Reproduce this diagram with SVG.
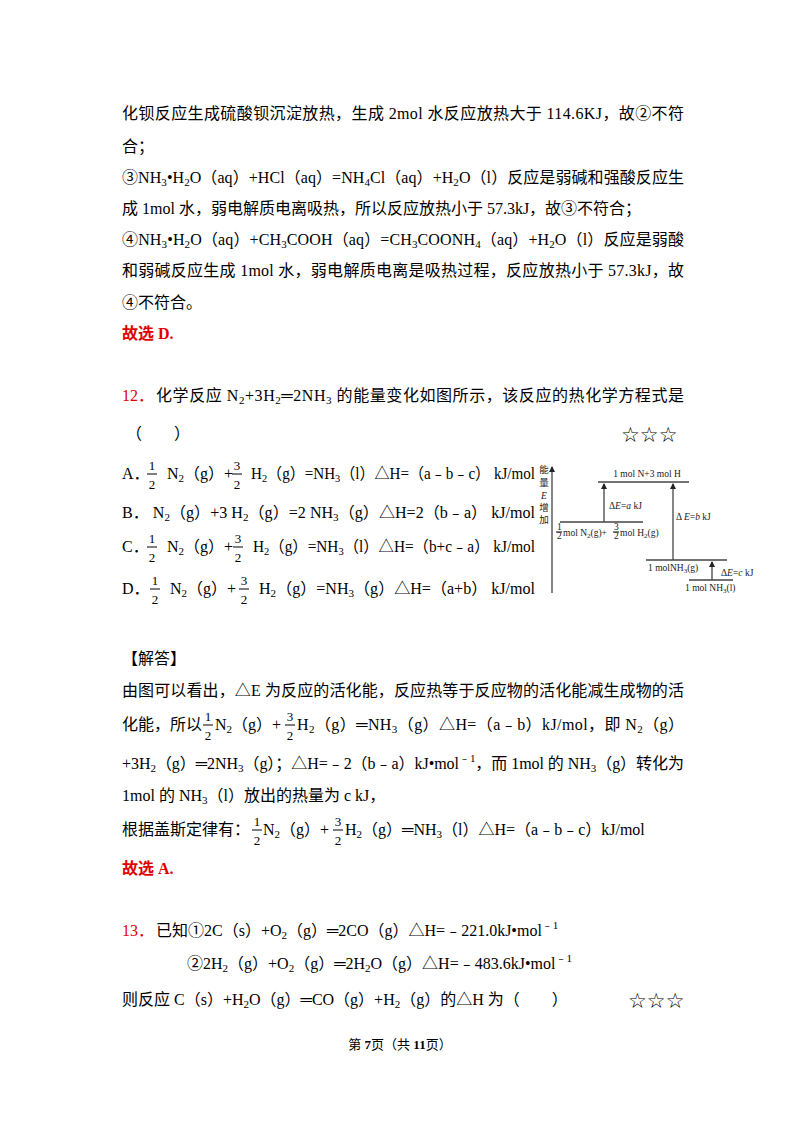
<svg xmlns="http://www.w3.org/2000/svg" width="800" height="1132" viewBox="0 0 800 1132">
<style>
text{font-family:"Liberation Serif","Noto Sans CJK SC",serif;font-size:16px;fill:#000}
.r{fill:#e00000;font-weight:bold}
.rn{fill:#e00000}
.s{font-size:11px}
.fr{font-size:13px;text-anchor:middle}
.d{font-size:9.5px;fill:#222}
.st{font-family:"DejaVu Sans",sans-serif;font-size:21px}
.ft{font-size:13px}
line{stroke:#000;stroke-width:1}
.dl{stroke:#444;stroke-width:1.3}
</style>
<defs><marker id="a" markerWidth="6" markerHeight="8" refX="5" refY="3" orient="auto" markerUnits="userSpaceOnUse"><path d="M0,0L6,3L0,6z" fill="#222"/></marker></defs>
<rect width="800" height="1132" fill="#fff"/>
<g id="text-top">
<text x="122" y="119" textLength="562" lengthAdjust="spacing">化钡反应生成硫酸钡沉淀放热，生成 2mol 水反应放热大于 114.6KJ，故②不符</text>
<text x="122" y="152">合；</text>
<text x="122" y="183" textLength="562" lengthAdjust="spacing">③NH<tspan class="s" dy="3">3</tspan><tspan dy="-3">•H</tspan><tspan class="s" dy="3">2</tspan><tspan dy="-3">O（aq）+HCl（aq）=NH</tspan><tspan class="s" dy="3">4</tspan><tspan dy="-3">Cl（aq）+H</tspan><tspan class="s" dy="3">2</tspan><tspan dy="-3">O（l）反应是弱碱和强酸反应生</tspan></text>
<text x="122" y="214">成 1mol 水，弱电解质电离吸热，所以反应放热小于 57.3kJ，故③不符合；</text>
<text x="122" y="245" textLength="562" lengthAdjust="spacing">④NH<tspan class="s" dy="3">3</tspan><tspan dy="-3">•H</tspan><tspan class="s" dy="3">2</tspan><tspan dy="-3">O（aq）+CH</tspan><tspan class="s" dy="3">3</tspan><tspan dy="-3">COOH（aq）=CH</tspan><tspan class="s" dy="3">3</tspan><tspan dy="-3">COONH</tspan><tspan class="s" dy="3">4</tspan><tspan dy="-3">（aq）+H</tspan><tspan class="s" dy="3">2</tspan><tspan dy="-3">O（l）反应是弱酸</tspan></text>
<text x="122" y="276" textLength="562" lengthAdjust="spacing">和弱碱反应生成 1mol 水，弱电解质电离是吸热过程，反应放热小于 57.3kJ，故</text>
<text x="122" y="308">④不符合。</text>
<text x="122" y="339" class="r">故选 D.</text>
</g>
<g id="q12">
<text x="122" y="401" class="rn">12．</text>
<text x="156" y="401" textLength="528" lengthAdjust="spacing">化学反应 N<tspan class="s" dy="3">2</tspan><tspan dy="-3">+3H</tspan><tspan class="s" dy="3">2</tspan><tspan dy="-3">═2NH</tspan><tspan class="s" dy="3">3</tspan><tspan dy="-3"> 的能量变化如图所示，该反应的热化学方程式是</tspan></text>
<text x="126" y="439">（　　）</text>
<text x="621" y="442" class="st">☆☆☆</text>
</g>
<g id="options">
<text x="122" y="479">A．</text>
<text x="152" y="470" class="fr">1</text><line x1="147" y1="474" x2="157" y2="474"/><text x="152" y="489" class="fr">2</text>
<text x="167" y="479">N<tspan class="s" dy="3">2</tspan><tspan dy="-3">（g）+</tspan></text>
<text x="237" y="470" class="fr">3</text><line x1="232" y1="474" x2="242" y2="474"/><text x="237" y="489" class="fr">2</text>
<text x="251" y="479" textLength="284" lengthAdjust="spacingAndGlyphs">H<tspan class="s" dy="3">2</tspan><tspan dy="-3">（g）=NH</tspan><tspan class="s" dy="3">3</tspan><tspan dy="-3">（l）△H=（a﹣b﹣c） kJ/mol</tspan></text>

<text x="122" y="518" textLength="413" lengthAdjust="spacingAndGlyphs">B．  N<tspan class="s" dy="3">2</tspan><tspan dy="-3">（g）+3 H</tspan><tspan class="s" dy="3">2</tspan><tspan dy="-3">（g）=2 NH</tspan><tspan class="s" dy="3">3</tspan><tspan dy="-3">（g）△H=2（b﹣a） kJ/mol</tspan></text>

<text x="122" y="552">C．</text>
<text x="152" y="543" class="fr">1</text><line x1="147" y1="547" x2="157" y2="547"/><text x="152" y="562" class="fr">2</text>
<text x="167" y="552">N<tspan class="s" dy="3">2</tspan><tspan dy="-3">（g）+</tspan></text>
<text x="238" y="543" class="fr">3</text><line x1="233" y1="547" x2="243" y2="547"/><text x="238" y="562" class="fr">2</text>
<text x="253" y="552" textLength="282" lengthAdjust="spacingAndGlyphs">H<tspan class="s" dy="3">2</tspan><tspan dy="-3">（g）=NH</tspan><tspan class="s" dy="3">3</tspan><tspan dy="-3">（l）△H=（b+c﹣a） kJ/mol</tspan></text>

<text x="122" y="594">D．</text>
<text x="155" y="585" class="fr">1</text><line x1="150" y1="589" x2="160" y2="589"/><text x="155" y="604" class="fr">2</text>
<text x="170" y="594">N<tspan class="s" dy="3">2</tspan><tspan dy="-3">（g）+</tspan></text>
<text x="244" y="585" class="fr">3</text><line x1="239" y1="589" x2="249" y2="589"/><text x="244" y="604" class="fr">2</text>
<text x="259" y="594" textLength="276" lengthAdjust="spacingAndGlyphs">H<tspan class="s" dy="3">2</tspan><tspan dy="-3">（g）=NH</tspan><tspan class="s" dy="3">3</tspan><tspan dy="-3">（g）△H=（a+b） kJ/mol</tspan></text>
</g>
<g id="energy-diagram">
<line class="dl" x1="552" y1="593" x2="552" y2="467" marker-end="url(#a)"/>
<text x="544" y="473" class="d" text-anchor="middle" font-size="9">能</text>
<text x="544" y="486" class="d" text-anchor="middle" font-size="9">量</text>
<text x="544" y="499" class="d" text-anchor="middle" font-style="italic">E</text>
<text x="544" y="511" class="d" text-anchor="middle" font-size="9">增</text>
<text x="544" y="523" class="d" text-anchor="middle" font-size="9">加</text>
<line class="dl" x1="598" y1="482" x2="689" y2="482"/>
<text x="647" y="477" class="d" text-anchor="middle">1 mol N+3 mol H</text>
<line class="dl" x1="560" y1="522" x2="643" y2="522"/>
<text x="557" y="530" class="d" font-size="7">1</text><line x1="556" y1="532" x2="562" y2="532" stroke-width="0.7"/><text x="557" y="539" class="d" font-size="7">2</text>
<text x="563" y="536" class="d">mol N<tspan font-size="7" dy="2">2</tspan><tspan dy="-2">(g)+</tspan></text>
<text x="614" y="530" class="d" font-size="7">3</text><line x1="613" y1="532" x2="619" y2="532" stroke-width="0.7"/><text x="614" y="539" class="d" font-size="7">2</text>
<text x="620" y="536" class="d">mol H<tspan font-size="7" dy="2">2</tspan><tspan dy="-2">(g)</tspan></text>
<line class="dl" x1="604" y1="522" x2="604" y2="484" marker-end="url(#a)"/>
<text x="609" y="509" class="d">Δ<tspan font-style="italic">E</tspan>=<tspan font-style="italic">a</tspan> kJ</text>
<line class="dl" x1="673" y1="560" x2="673" y2="484" marker-end="url(#a)"/>
<text x="676" y="520" class="d">Δ <tspan font-style="italic">E</tspan>=<tspan font-style="italic">b</tspan> kJ</text>
<line class="dl" x1="646" y1="560" x2="727" y2="560"/>
<text x="648" y="571" class="d">1 molNH<tspan font-size="7" dy="2">3</tspan><tspan dy="-2">(g)</tspan></text>
<line class="dl" x1="712" y1="580" x2="712" y2="562" marker-end="url(#a)"/>
<text x="721" y="576" class="d" font-size="8.5">Δ<tspan font-style="italic">E</tspan>=<tspan font-style="italic">c</tspan> kJ</text>
<line class="dl" x1="689" y1="580" x2="733" y2="580"/>
<text x="685" y="591" class="d">1 mol NH<tspan font-size="7" dy="2">3</tspan><tspan dy="-2">(l)</tspan></text>
</g>
<g id="answer">
<text x="122" y="664">【解答】</text>
<text x="122" y="696" textLength="562" lengthAdjust="spacing">由图可以看出，△E 为反应的活化能，反应热等于反应物的活化能减生成物的活</text>
<text x="122" y="730">化能，所以</text>
<text x="208" y="721" class="fr">1</text><line x1="203" y1="725" x2="213" y2="725"/><text x="208" y="740" class="fr">2</text>
<text x="215" y="730">N<tspan class="s" dy="3">2</tspan><tspan dy="-3">（g）+</tspan></text>
<text x="290" y="721" class="fr">3</text><line x1="285" y1="725" x2="295" y2="725"/><text x="290" y="740" class="fr">2</text>
<text x="297" y="730" textLength="387" lengthAdjust="spacing">H<tspan class="s" dy="3">2</tspan><tspan dy="-3">（g）═NH</tspan><tspan class="s" dy="3">3</tspan><tspan dy="-3">（g）△H=（a﹣b）kJ/mol，即 N</tspan><tspan class="s" dy="3">2</tspan><tspan dy="-3">（g）</tspan></text>
<text x="122" y="769" textLength="562" lengthAdjust="spacing">+3H<tspan class="s" dy="3">2</tspan><tspan dy="-3">（g）═2NH</tspan><tspan class="s" dy="3">3</tspan><tspan dy="-3">（g）；△H=﹣2（b﹣a）kJ•mol</tspan><tspan class="s" dy="-7">﹣1</tspan><tspan dy="7">，而 1mol 的 NH</tspan><tspan class="s" dy="3">3</tspan><tspan dy="-3">（g）转化为</tspan></text>
<text x="122" y="801">1mol 的 NH<tspan class="s" dy="3">3</tspan><tspan dy="-3">（l）放出的热量为 c kJ，</tspan></text>
<text x="122" y="835">根据盖斯定律有：</text>
<text x="257" y="826" class="fr">1</text><line x1="252" y1="830" x2="262" y2="830"/><text x="257" y="845" class="fr">2</text>
<text x="263" y="835">N<tspan class="s" dy="3">2</tspan><tspan dy="-3">（g）+</tspan></text>
<text x="338" y="826" class="fr">3</text><line x1="333" y1="830" x2="343" y2="830"/><text x="338" y="845" class="fr">2</text>
<text x="345" y="835">H<tspan class="s" dy="3">2</tspan><tspan dy="-3">（g）═NH</tspan><tspan class="s" dy="3">3</tspan><tspan dy="-3">（l）△H=（a﹣b﹣c）kJ/mol</tspan></text>
<text x="122" y="874" class="r">故选 A.</text>
</g>
<g id="q13">
<text x="122" y="936" class="rn">13．</text>
<text x="156" y="936">已知①2C（s）+O<tspan class="s" dy="3">2</tspan><tspan dy="-3">（g）═2CO（g）△H=﹣221.0kJ•mol</tspan><tspan class="s" dy="-7">﹣1</tspan></text>
<text x="187" y="969">②2H<tspan class="s" dy="3">2</tspan><tspan dy="-3">（g）+O</tspan><tspan class="s" dy="3">2</tspan><tspan dy="-3">（g）═2H</tspan><tspan class="s" dy="3">2</tspan><tspan dy="-3">O（g）△H=﹣483.6kJ•mol</tspan><tspan class="s" dy="-7">﹣1</tspan></text>
<text x="122" y="1005">则反应 C（s）+H<tspan class="s" dy="3">2</tspan><tspan dy="-3">O（g）═CO（g）+H</tspan><tspan class="s" dy="3">2</tspan><tspan dy="-3">（g）的△H 为（　　）</tspan></text>
<text x="628" y="1008" class="st">☆☆☆</text>
<text x="400" y="1049" class="ft" text-anchor="middle">第 <tspan font-weight="bold">7</tspan>页（共 <tspan font-weight="bold">11</tspan>页）</text>
</g>
</svg>
